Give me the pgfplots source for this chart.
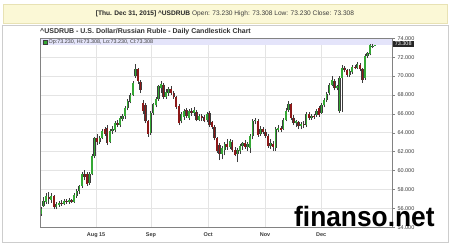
\documentclass[border=0pt]{standalone}
\usepackage{pgfplots}
\pgfplotsset{compat=1.18}
\usepackage{pgfplotstable}
\usepackage{fontspec}
\setmainfont{Liberation Sans}
\definecolor{upg}{RGB}{52,168,52}
\definecolor{dnr}{RGB}{140,24,24}
\definecolor{edge}{RGB}{60,60,60}
\definecolor{gridc}{RGB}{228,228,228}
\definecolor{framec}{RGB}{130,130,130}
\definecolor{band}{RGB}{228,228,250}
\definecolor{barfill}{RGB}{251,248,214}
\definecolor{barline}{RGB}{232,226,180}
\definecolor{txt}{RGB}{60,60,60}
\definecolor{panel}{RGB}{205,205,205}

\pgfplotstableread{
i o h l c
0 55.4 56.2 55.2 55.9
1 56.3 57.2 56.2 56.8
2 56.7 57.6 56.5 57.3
4 56.9 57.6 56.6 57.3
6 56.1 56.7 55.9 56.5
7 56.4 56.8 56.2 56.6
9 56.5 57.0 56.4 56.8
11 56.7 57.1 56.5 56.9
13 56.7 57.6 56.6 57.4
14 57.3 58.0 57.1 57.8
15 57.8 58.5 57.5 58.4
16 58.4 59.8 58.2 59.6
19 58.7 59.9 58.5 59.6
20 59.6 61.8 59.5 61.5
21 61.5 63.6 61.3 63.4
23 63.0 63.7 62.8 63.5
24 63.5 64.4 63.3 64.2
27 63.0 64.4 62.9 64.2
28 64.2 64.7 63.9 64.4
29 64.3 65.2 64.1 65.0
31 64.8 65.8 64.6 65.6
32 65.5 66.0 65.2 65.8
33 65.8 66.8 65.5 66.6
34 66.6 67.6 66.4 67.4
35 67.3 68.2 67.1 68.0
36 68.0 69.5 67.9 69.3
37 70.0 71.3 69.8 70.8
43 64.0 66.3 63.8 66.1
44 66.1 67.2 65.9 67.0
45 66.9 67.8 66.7 67.6
46 67.6 69.1 67.4 68.9
47 68.7 69.5 68.2 69.2
49 67.8 68.6 67.6 68.3
50 68.2 68.8 67.9 68.6
55 65.2 66.2 65.0 66.0
56 65.7 66.5 65.4 66.3
58 65.6 66.5 65.4 66.3
60 66.1 66.7 65.8 66.4
62 65.4 66.0 65.2 65.8
65 65.4 66.2 65.1 66.0
71 61.8 62.6 61.2 62.4
72 62.2 63.0 61.6 62.8
74 62.5 63.3 62.3 63.1
77 61.8 62.4 60.9 62.2
78 62.1 62.8 61.8 62.6
79 62.6 63.0 62.2 62.9
81 62.5 63.0 62.1 62.8
82 62.4 63.9 61.9 63.7
83 63.7 65.5 63.3 65.2
84 65.2 65.6 64.9 65.4
86 63.9 64.7 63.7 64.4
90 62.6 63.3 62.3 62.9
92 62.4 64.6 62.1 64.4
93 64.3 64.8 64.1 64.5
95 64.4 65.6 64.3 65.4
96 65.4 66.6 65.2 66.3
97 66.4 67.4 66.2 67.0
100 65.0 65.4 64.6 65.2
102 64.7 65.1 64.4 64.9
104 64.8 66.2 64.6 66.0
106 65.6 66.0 65.4 65.8
108 65.9 66.5 65.7 66.3
110 66.1 67.2 66.0 66.9
111 66.9 67.7 66.7 67.5
112 67.5 68.3 67.3 68.1
113 68.2 69.3 68.0 69.1
114 69.1 70.0 68.9 69.6
116 68.7 69.1 68.5 68.9
117 66.3 70.0 66.1 69.8
118 69.8 71.2 66.2 70.9
121 70.1 70.7 69.9 70.5
122 70.4 71.2 70.2 71.0
124 70.9 71.5 70.8 71.3
127 69.8 72.3 69.6 72.1
128 72.1 72.6 71.9 72.4
129 72.3 73.4 72.2 73.3
130 73.1 73.4 73.0 73.2
131 73.23 73.308 73.23 73.308
}\up

\pgfplotstableread{
i o h l c
3 57.2 57.7 56.5 57.0
5 57.3 57.4 55.9 56.1
8 56.6 56.9 56.3 56.5
10 56.8 57.0 56.5 56.7
12 56.9 57.0 56.6 56.7
17 59.6 60.1 59.0 59.3
18 59.6 59.9 58.4 58.6
22 63.4 63.9 62.7 63.0
25 64.4 64.6 63.7 63.9
26 64.5 64.8 62.7 62.9
30 65.0 65.4 64.6 64.8
38 70.7 70.9 69.2 69.5
39 69.4 69.6 68.2 68.5
40 67.2 67.5 66.0 66.3
41 66.9 67.2 65.0 65.2
42 65.2 65.4 63.6 63.9
48 69.1 69.3 67.6 67.8
51 68.6 68.9 68.0 68.2
52 68.2 68.4 67.6 67.8
53 67.8 67.9 66.5 66.7
54 66.8 67.0 64.8 65.0
57 66.4 66.6 65.6 65.8
59 66.3 66.6 65.8 66.1
61 66.2 66.4 65.2 65.4
63 65.8 66.0 65.3 65.6
64 65.7 65.9 65.1 65.3
66 66.1 66.3 64.6 64.8
67 65.1 65.3 64.4 64.6
68 64.6 64.8 63.2 63.4
69 63.4 63.6 61.9 62.1
70 62.7 62.9 61.1 61.8
73 62.8 63.3 62.2 62.5
75 63.0 63.2 62.0 62.2
76 62.2 62.5 61.5 61.7
80 62.9 63.2 62.3 62.5
85 65.3 65.5 63.6 63.8
87 64.4 64.6 63.9 64.1
88 64.1 64.4 63.5 63.7
89 63.7 63.9 62.4 62.6
91 62.8 63.1 62.1 62.5
94 64.5 64.7 64.1 64.3
98 67.0 67.2 65.4 65.6
99 65.6 65.9 64.8 65.0
101 65.1 65.3 64.4 64.7
103 64.9 65.3 64.5 64.8
105 66.0 66.2 65.4 65.6
107 65.8 66.0 65.5 65.7
109 66.6 66.8 65.7 65.9
115 69.5 69.7 68.5 68.7
119 70.9 71.1 70.4 70.6
120 70.6 70.8 69.9 70.1
123 71.0 71.2 70.7 70.9
125 71.2 71.4 70.5 70.7
126 70.7 70.9 69.3 69.6
}\down

\begin{document}
\begin{tikzpicture}
\useasboundingbox (0pt,0pt) rectangle (450pt,245pt);
\begin{scope}[x=1pt,y=1pt]
\fill[white] (0,0) rectangle (450,245);
% outer panel
\draw[panel, line width=0.8pt] (2,3) rectangle (448,220);
% info bar
\filldraw[fill=barfill, draw=barline, line width=0.6pt] (3,222) rectangle (447,241);
\node[text=txt, inner sep=0] at (225,231.5) {\fontsize{6.6}{8}\selectfont\textbf{\color{black!85}[Thu. Dec 31, 2015] \textasciicircum USDRUB} Open: 73.230 High: 73.308 Low: 73.230 Close: 73.308};
% title
\node[anchor=west, inner sep=0, text=black!80] at (40,213.5) {\fontsize{7}{8}\selectfont\bfseries \textasciicircum USDRUB - U.S. Dollar/Russian Ruble - Daily Candlestick Chart};
\end{scope}

\begin{axis}[
  at={(40pt,17.7pt)}, anchor=south west,
  width=352pt, height=189pt, scale only axis,
  xmin=-0.4, xmax=137.6, ymin=54, ymax=74,
  axis line style={draw=none},
  xtick={21.6,43.1,65.5,87.8,109.8},
  xticklabels={Aug 15,Sep,Oct,Nov,Dec},
  xtick pos=bottom,
  xtick style={draw=none},
  xticklabel style={font=\bfseries\fontsize{5.5}{6}\selectfont, text=txt, yshift=1pt},
  ytick={54,56,...,74},
  ytick pos=right,
  yticklabel pos=right,
  ytick style={draw=framec, line width=0.5pt},
  tick align=outside,
  major tick length=3pt,
  yticklabel style={font=\fontsize{5.5}{6}\selectfont, text=txt, xshift=-1pt},
  /pgf/number format/assume math mode=true,
  yticklabel={\pgfmathprintnumber[fixed,fixed zerofill,precision=3]{\tick}},
  grid=major,
  grid style={gridc, line width=0.6pt},
]
\fill[band] (axis cs:-0.4,73.26) rectangle (axis cs:137.6,74);
% wicks
\addplot[edge, line width=0.5pt, quiver={u=0, v=\thisrow{h}-\thisrow{l}}] table[x=i, y=l] \up;
\addplot[edge, line width=0.5pt, quiver={u=0, v=\thisrow{h}-\thisrow{l}}] table[x=i, y=l] \down;
% bodies
\addplot[edge, line width=2.3pt, quiver={u=0, v=\thisrow{c}-\thisrow{o}}] table[x=i, y=o] \up;
\addplot[upg, line width=1.5pt, quiver={u=0, v=\thisrow{c}-\thisrow{o}}] table[x=i, y=o] \up;
\addplot[edge, line width=2.3pt, quiver={u=0, v=\thisrow{c}-\thisrow{o}}] table[x=i, y=o] \down;
\addplot[dnr, line width=1.5pt, quiver={u=0, v=\thisrow{c}-\thisrow{o}}] table[x=i, y=o] \down;
\end{axis}

\begin{scope}[x=1pt,y=1pt]
% frame
\draw[framec, line width=0.8pt] (40,17.7) rectangle (392,206.7);
% legend band content
\filldraw[fill=upg, draw=edge, line width=0.3pt] (43.2,200.8) rectangle (46.8,204.4);
\node[anchor=west, inner sep=0, text=txt] at (48.5,202.6) {\fontsize{5.4}{6}\selectfont Op:73.230, Hi:73.308, Lo:73.230, Cl:73.308};
% last value marker
\fill[black!85] (393,197.6) rectangle (413.5,204.4);
\node[inner sep=0, text=white] at (403.2,201) {\fontsize{5.5}{6}\selectfont 73.308};
% watermark
\node[anchor=base west, inner sep=0, xscale=0.94] at (294,18) {\fontsize{28}{28}\selectfont\bfseries finanso.net};
\end{scope}
\end{tikzpicture}
\end{document}
